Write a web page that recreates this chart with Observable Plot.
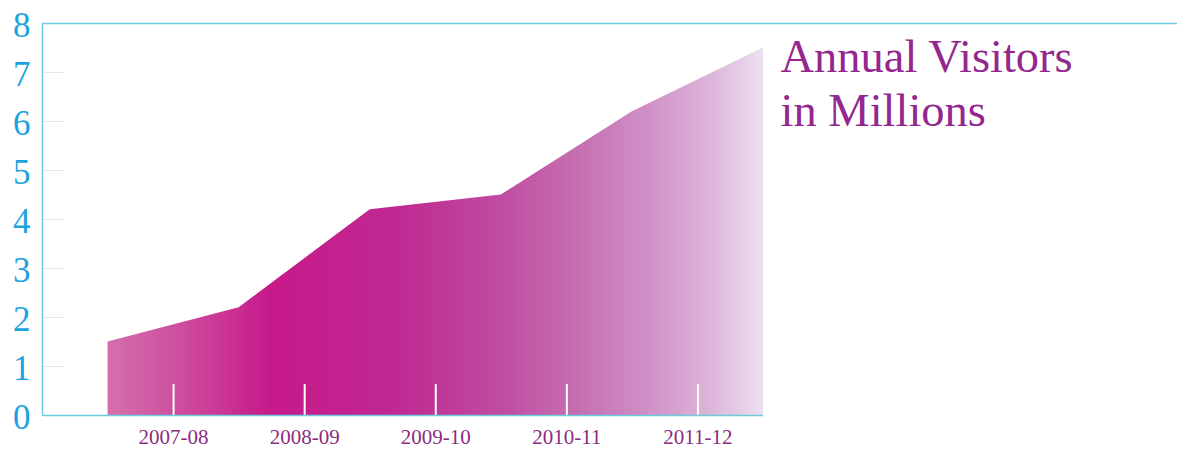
<!DOCTYPE html>
<html>
<head>
<meta charset="utf-8">
<script src="https://cdn.jsdelivr.net/npm/d3@7"></script>
<script src="https://cdn.jsdelivr.net/npm/@observablehq/plot@0.6"></script>
<style>
  html, body { margin: 0; padding: 0; background: #fff; }
  #chart { width: 1177px; height: 450px; }
</style>
</head>
<body>
<div id="chart"></div>
<script>
// ---- Data ----
const categories = ["2007-08", "2008-09", "2009-10", "2010-11", "2011-12"];
// visitor values (millions) at the band edges between seasons
const edgeValues = [1.5, 2.2, 4.2, 4.5, 6.2, 7.5];
const yTicks = [0, 1, 2, 3, 4, 5, 6, 7, 8];
const titleLines = ["Annual Visitors", "in Millions"];

// ---- Styles ----
const cyanLine = "#6ccbdc";
const cyanText = "#1ba3e0";
const purpleText = "#8c2c80";
const titleColor = "#93278f";
const font = "'Liberation Serif', 'DejaVu Serif', serif";

const xMin = -0.5;
const xMax = categories.length;
const edges = edgeValues.map((v, i) => ({x: i, y: v}));
const centers = categories.map((c, i) => ({x: i + 0.5, label: c}));

const chart = Plot.plot({
  width: 1177,
  height: 450,
  marginLeft: 42,
  marginRight: 0,
  marginTop: 23,
  marginBottom: 35,
  style: {fontFamily: font, background: "white"},
  x: {domain: [xMin, xMax], range: [42, 763], axis: null},
  y: {domain: [0, 8], axis: null},
  marks: [
    // faint inner ticks
    Plot.ruleY(yTicks.filter(d => d > 0 && d < 8), {x1: xMin, x2: xMin + 0.16, stroke: "#e6e6e6", strokeWidth: 1}),
    // area
    Plot.areaY(edges, {x: "x", y: "y", fill: "url(#visitorsGrad)", curve: "linear"}),
    // white category ticks inside area
    Plot.ruleX(centers, {x: "x", y1: 0, y2: 0.63, stroke: "white", strokeWidth: 2}),
    // frame lines
    Plot.ruleY([8], {stroke: cyanLine, strokeWidth: 1.5}),
    Plot.ruleX([xMin], {y1: 0, y2: 8, stroke: cyanLine, strokeWidth: 1.5}),
    Plot.ruleY([0], {x1: xMin, x2: xMax, stroke: cyanLine, strokeWidth: 1.5}),
    // y labels
    Plot.text(yTicks, {x: xMin, y: d => d, dx: -12, dy: 2, text: d => String(d), textAnchor: "end", fill: cyanText, fontSize: 35}),
    // x labels
    Plot.text(centers, {x: "x", y: 0, dy: 22, text: "label", fill: purpleText, fontSize: 21}),
    // title
    Plot.text([titleLines.join("\n")], {x: xMax, y: 8, dx: 17, dy: 11, text: d => d, textAnchor: "start", lineAnchor: "top", lineHeight: 1.15, fill: titleColor, fontSize: 46.5})
  ]
});

// gradient definition
const svg = d3.select(chart.tagName.toLowerCase() === "svg" ? chart : chart.querySelector("svg"));
const defs = svg.insert("defs", ":first-child");
const grad = defs.append("linearGradient")
  .attr("id", "visitorsGrad")
  .attr("x1", 0).attr("x2", 1).attr("y1", 0).attr("y2", 0);
const stops = [
  [0.00, "#d470ac"],
  [0.12, "#cd4a9c"],
  [0.25, "#c7198a"],
  [0.45, "#c02a92"],
  [0.60, "#c04ca0"],
  [0.72, "#c570b2"],
  [0.82, "#cf8fc6"],
  [0.92, "#dcb5d9"],
  [1.00, "#eddff0"]
];
stops.forEach(([o, c]) => grad.append("stop").attr("offset", o).attr("stop-color", c));

document.getElementById("chart").appendChild(chart);
</script>
</body>
</html>
